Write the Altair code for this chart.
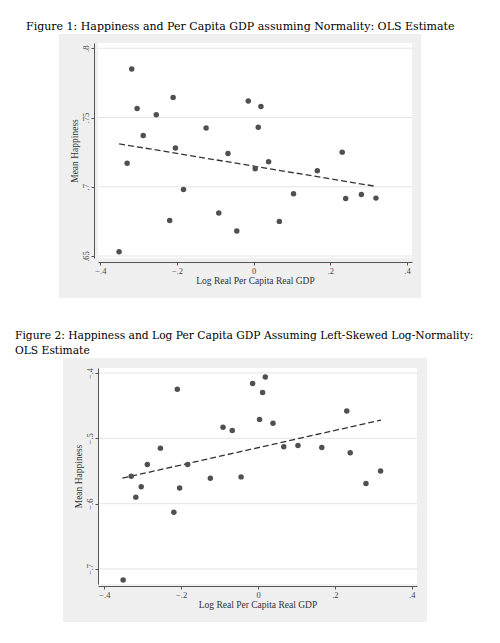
import altair as alt
import pandas as pd

# Log real per capita GDP (same x for both figures)
gdp = [-0.351, -0.330, -0.318, -0.304, -0.288, -0.254, -0.219, -0.210, -0.204, -0.183,
       -0.124, -0.091, -0.067, -0.044, -0.014, 0.004, 0.012, 0.019, 0.039, 0.067,
       0.104, 0.166, 0.231, 0.240, 0.281, 0.319]
# Figure 1: mean happiness
happy1 = [0.653, 0.717, 0.785, 0.7565, 0.737, 0.752, 0.6756, 0.7645, 0.728, 0.698,
          0.7425, 0.681, 0.724, 0.668, 0.762, 0.713, 0.743, 0.758, 0.718, 0.675,
          0.695, 0.7116, 0.725, 0.6915, 0.6944, 0.6918]
# Figure 2: mean happiness (log scale)
happy2 = [-0.717, -0.558, -0.590, -0.574, -0.540, -0.515, -0.613, -0.425, -0.576, -0.540,
          -0.561, -0.483, -0.488, -0.559, -0.416, -0.471, -0.430, -0.406, -0.477, -0.513,
          -0.511, -0.514, -0.458, -0.522, -0.569, -0.550]
# OLS fitted line endpoints
fit_x1 = [-0.351, 0.314]
fit_y1 = [0.731, 0.7005]
fit_x2 = [-0.353, 0.320]
fit_y2 = [-0.561, -0.472]

x_ticks = [-0.4, -0.2, 0, 0.2, 0.4]
y_ticks1 = [0.65, 0.7, 0.75, 0.8]
y_ticks2 = [-0.7, -0.6, -0.5, -0.4]

title1 = "Figure 1:  Happiness and Per Capita GDP assuming Normality: OLS Estimate"
title2 = ["Figure 2:  Happiness and Log Per Capita GDP Assuming Left-Skewed Log-Normality:",
          "OLS Estimate"]

AXIS_FONT = "Liberation Serif"
TITLE_FONT = "DejaVu Serif"
PANEL = "#efefef"
GRID = "#e4e4e4"
PT = "#505050"


def fmt_expr():
    return "replace(format(datum.value, '.2~f'), '0.', '.')"


def figure(y_vals, fx, fy, yticks, xdom, ydom, W, H, panel, xoff, yoff, title, tdx, toff, tsize):
    pts = pd.DataFrame({"x": gdp, "y": y_vals})
    fit = pd.DataFrame({"x": fx, "y": fy})
    grid = pd.DataFrame({"y": yticks})
    one = pd.DataFrame({"a": [0]})

    xs = alt.Scale(domain=xdom, nice=False, zero=False)
    ys = alt.Scale(domain=ydom, nice=False, zero=False)

    xaxis = alt.Axis(values=x_ticks, labelExpr=fmt_expr(), title="Log Real Per Capita Real GDP",
                     offset=xoff, grid=False, zindex=1, domainColor="#555", tickColor="#555",
                     tickSize=3, labelFont=AXIS_FONT, labelFontSize=8.5, labelColor="#444",
                     labelPadding=1, titleFont=AXIS_FONT, titleFontSize=9.5,
                     titleFontWeight="normal", titleColor="#333", titlePadding=1)
    yaxis = alt.Axis(values=yticks, labelExpr=fmt_expr(), title="Mean Happiness",
                     offset=yoff, grid=False, zindex=1, domainColor="#555", tickColor="#555",
                     tickSize=3, labelAngle=270, labelFont=AXIS_FONT, labelFontSize=8.5,
                     labelColor="#444", labelPadding=1, titleFont=AXIS_FONT, titleFontSize=9.5,
                     titleFontWeight="normal", titleColor="#333", titlePadding=2)

    X = alt.X("x:Q", scale=xs, axis=xaxis)
    Y = alt.Y("y:Q", scale=ys, axis=yaxis)

    bg = alt.Chart(one).mark_rect(color=PANEL).encode(
        x=alt.value(panel[0]), x2=alt.value(panel[1]),
        y=alt.value(panel[2]), y2=alt.value(panel[3]))
    white = alt.Chart(one).mark_rect(color="white").encode(
        x=alt.value(0), x2=alt.value(W), y=alt.value(0), y2=alt.value(H))
    gl = alt.Chart(grid).mark_rule(color=GRID, strokeWidth=1).encode(
        y=Y, x=alt.value(0), x2=alt.value(W))
    line = alt.Chart(fit).mark_line(color="#333", strokeWidth=1.3, strokeDash=[6, 3]).encode(
        x=X, y=Y)
    dots = alt.Chart(pts).mark_circle(color=PT, opacity=1, size=30).encode(x=X, y=Y)

    return alt.layer(bg, white, gl, line, dots).properties(
        width=W, height=H,
        title=alt.TitleParams(text=title, anchor="start", frame="group", dx=tdx, offset=toff,
                              font=TITLE_FONT, fontSize=tsize, fontWeight="normal",
                              color="black", lineHeight=15),
    )


f1 = figure(happy1, fit_x1, fit_y1, y_ticks1, [-0.406, 0.413], [0.64856, 0.8038],
            314, 215, (-39, 323, -9, 255), 4, 4, title1, -72, 2, 11)
f2 = figure(happy2, fit_x2, fit_y2, y_ticks2, [-0.4164, 0.41379], [-0.72296, -0.39235],
            319, 216, (-35, 329, -10, 254), 2, 0, title2, -83, 1, 10.7)

chart = alt.vconcat(f1, f2, spacing=30).properties(
    padding={"left": 6, "top": 12, "right": 0, "bottom": 0}
).configure_view(stroke=None).configure(background="white")

chart.save("out.html", embed_options={"renderer": "svg", "actions": False})
